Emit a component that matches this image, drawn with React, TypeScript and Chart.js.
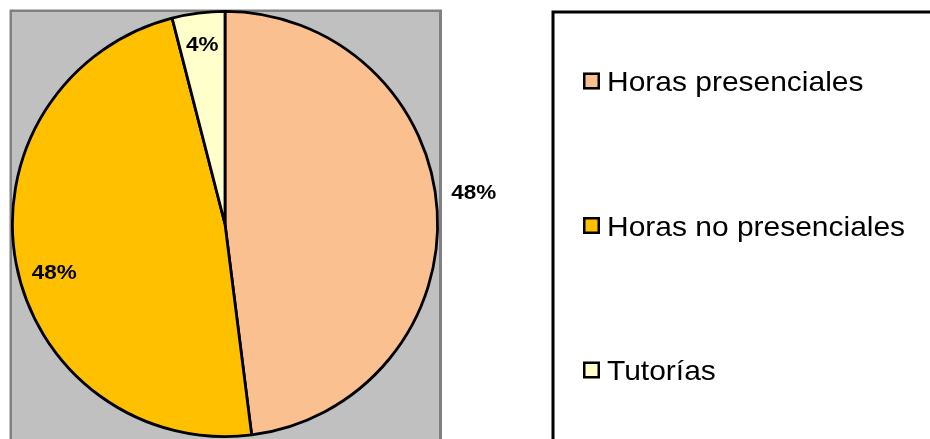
import React, { useEffect, useRef } from "react";
import { Chart, registerables } from "chart.js";

Chart.register(...registerables);

const categories = ["Horas presenciales", "Horas no presenciales", "Tutorías"];
const shares = [48, 48, 4];
const sliceColors = ["#FAC090", "#FFC000", "#FFFFCC"];

// label placement style (radius factor, angle shift in degrees)
const labelRadius = [1.18, 0.834, 0.854];
const labelShift = [-3.9, -4.9, 0];

const TEXT_STRETCH = 1.07;

function stretchedText(ctx: CanvasRenderingContext2D, text: string, x: number, y: number, align: CanvasTextAlign) {
  ctx.save();
  ctx.translate(x, y);
  ctx.scale(TEXT_STRETCH, 1);
  ctx.textAlign = align;
  ctx.fillText(text, 0, 0);
  ctx.restore();
}

const backgroundPlugin = {
  id: "plotBackground",
  beforeDraw(chart: any) {
    const { ctx, chartArea } = chart;
    ctx.save();
    ctx.fillStyle = "#808080";
    ctx.fillRect(chartArea.left - 1.5, chartArea.top - 0.5, chartArea.width + 4.5, chartArea.height + 10);
    ctx.fillStyle = "#C0C0C0";
    ctx.fillRect(chartArea.left + 1, chartArea.top + 2, chartArea.width - 1, chartArea.height + 10);
    ctx.restore();
  },
};

const labelPlugin = {
  id: "pctLabels",
  afterDatasetsDraw(chart: any) {
    const { ctx } = chart;
    const meta = chart.getDatasetMeta(0);
    const values: number[] = chart.data.datasets[0].data;
    const total = values.reduce((a, b) => a + b, 0);
    ctx.save();
    ctx.fillStyle = "#000000";
    ctx.font = "bold 21px 'Liberation Sans', Arial, sans-serif";
    ctx.textBaseline = "alphabetic";
    meta.data.forEach((arc: any, i: number) => {
      const p = arc.getProps(["x", "y", "startAngle", "endAngle", "outerRadius"], true);
      const mid = (p.startAngle + p.endAngle) / 2 + (labelShift[i] * Math.PI) / 180;
      const r = p.outerRadius * labelRadius[i];
      const x = p.x + Math.cos(mid) * r;
      const y = p.y + Math.sin(mid) * r;
      const txt = Math.round((values[i] / total) * 100) + "%";
      stretchedText(ctx, txt, x, y + 7.5, "center");
    });
    ctx.restore();
  },
};

const legendPlugin = {
  id: "boxLegend",
  afterDraw(chart: any) {
    const { ctx } = chart;
    const labels: string[] = chart.data.labels;
    const colors: string[] = chart.data.datasets[0].backgroundColor;
    ctx.save();
    ctx.strokeStyle = "#000000";
    ctx.lineWidth = 3;
    ctx.strokeRect(553, 12, 500, 500);
    ctx.font = "28px 'Liberation Sans', Arial, sans-serif";
    ctx.textBaseline = "alphabetic";
    labels.forEach((lab, i) => {
      const cy = 81 + i * 144.5;
      ctx.fillStyle = colors[i];
      ctx.fillRect(583, cy - 8.5, 17, 17);
      ctx.lineWidth = 2.5;
      ctx.strokeStyle = "#000000";
      ctx.strokeRect(584.25, cy - 7.25, 14.5, 14.5);
      ctx.fillStyle = "#000000";
      stretchedText(ctx, lab, 607, cy + 10, "left");
    });
    ctx.restore();
  },
};

export default function App() {
  const ref = useRef<HTMLCanvasElement | null>(null);
  useEffect(() => {
    document.body.style.margin = "0";
    const chart = new Chart(ref.current as HTMLCanvasElement, {
      type: "pie",
      data: {
        labels: categories,
        datasets: [
          {
            data: shares,
            backgroundColor: sliceColors,
            borderColor: "#000000",
            borderWidth: 2.8,
          },
        ],
      },
      options: {
        responsive: false,
        animation: false,
        devicePixelRatio: 1,
        layout: { padding: { left: 11, top: 10, right: 491, bottom: 1 } },
        plugins: {
          legend: { display: false },
          tooltip: { enabled: false },
        },
      },
      plugins: [backgroundPlugin, labelPlugin, legendPlugin],
    });
    return () => chart.destroy();
  }, []);
  return (
    <div style={{ position: "fixed", left: 0, top: 0, width: 930, height: 439, background: "#ffffff" }}>
      <canvas ref={ref} width={930} height={439} style={{ width: 930, height: 439 }} />
    </div>
  );
}
